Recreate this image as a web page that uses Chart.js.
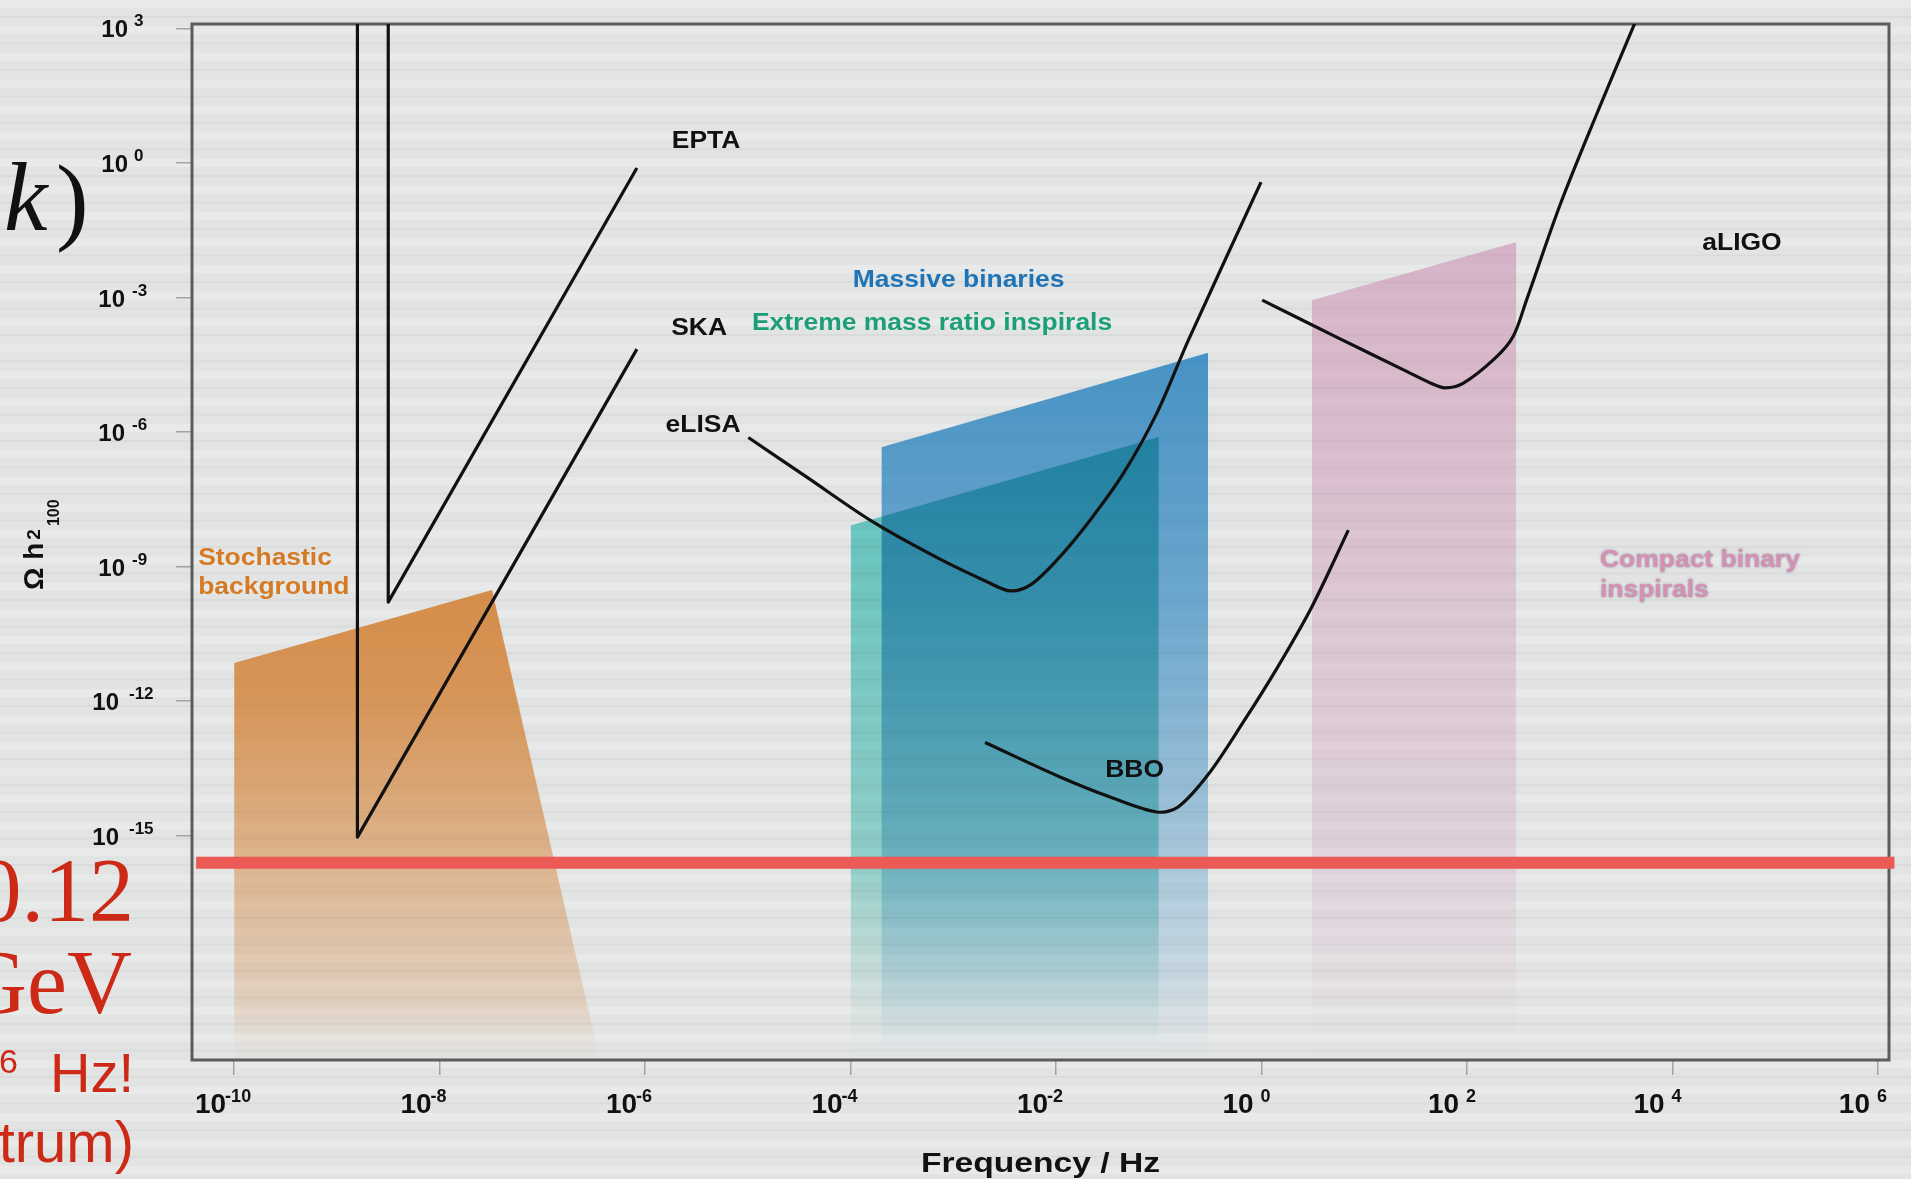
<!DOCTYPE html>
<html>
<head>
<meta charset="utf-8">
<script src="https://cdn.jsdelivr.net/npm/chart.js@4.4.1/dist/chart.umd.min.js"></script>
<style>
  html, body { margin: 0; padding: 0; background: #e3e5e5; }
  body { width: 1911px; height: 1179px; overflow: hidden; }
  canvas { display: block; }
</style>
</head>
<body>
<canvas id="c" width="1911" height="1179"></canvas>
<script>
// Axis ticks, as powers of ten
const xTickExps = [-10, -8, -6, -4, -2, 0, 2, 4, 6];
const yTickExps = [3, 0, -3, -6, -9, -12, -15];

// Detector sensitivity curves: log10 frequency [Hz] and log10 Ω h²₁₀₀
const eptaLogF = [-8.50, -8.50, -6.08];
const eptaLogOmega = [3.5, -9.79, -0.11];
const skaLogF = [-8.80, -8.80, -6.08];
const skaLogOmega = [3.5, -15.03, -4.15];
const elisaLogF = [-4.995, -4.426, -3.778, -3.129, -2.642, -2.448, -2.253, -1.993, -1.669, -1.345, -1.020, -0.712, -0.005];
const elisaLogOmega = [-6.119, -7.004, -8.008, -8.833, -9.368, -9.540, -9.413, -8.856, -7.963, -6.922, -5.583, -3.948, -0.424];
const bboLogF = [-2.691, -1.961, -1.474, -1.020, -0.812, -0.518, -0.177, 0.148, 0.489, 0.845];
const bboLogOmega = [-12.922, -13.689, -14.136, -14.470, -14.357, -13.629, -12.462, -11.272, -9.897, -8.186];
const aligoLogF = [0.006, 0.725, 1.387, 1.653, 1.785, 1.961, 2.271, 2.447, 2.579, 2.905, 3.246, 3.626, 3.733];
const aligoLogOmega = [-3.056, -3.875, -4.617, -4.914, -5.012, -4.914, -4.357, -3.874, -3.056, -0.937, 1.004, 3.078, 3.658];

// Source bands (upper edge; each band is filled down to the bottom of the axis)
const stochasticLogF = [-10.0, -7.49, -6.47];
const stochasticLogOmega = [-11.15, -9.52, -19.70];
const massiveLogF = [-3.70, -0.52];
const massiveLogOmega = [-6.34, -4.23];
const emriLogF = [-4.00, -1.00];
const emriLogOmega = [-8.08, -6.11];
const compactLogF = [0.49, 2.48];
const compactLogOmega = [-3.06, -1.76];

// Horizontal signal level
const signalLogF = [-10.37, 6.16];
const signalLogOmega = [-15.6, -15.6];

// Text placed on the plot (anchor in log10 data units)
const plotLabels = [
  { text: 'EPTA', logF: -5.406, logOmega: 0.335, color: '#111111', align: 'center' },
  { text: 'SKA', logF: -5.474, logOmega: -3.837, color: '#111111', align: 'center' },
  { text: 'eLISA', logF: -5.436, logOmega: -6.000, color: '#111111', align: 'center' },
  { text: 'Massive binaries', logF: -2.949, logOmega: -2.766, color: '#1f74b8', align: 'center' },
  { text: 'Extreme mass ratio inspirals', logF: -3.207, logOmega: -3.714, color: '#1c9e78', align: 'center' },
  { text: 'aLIGO', logF: 4.676, logOmega: -1.941, color: '#111111', align: 'center' },
  { text: 'BBO', logF: -1.236, logOmega: -13.696, color: '#111111', align: 'center' },
  { text: 'Stochastic', logF: -10.35, logOmega: -8.967, color: '#d57a22', align: 'left' },
  { text: 'background', logF: -10.35, logOmega: -9.614, color: '#d57a22', align: 'left' },
  { text: 'Compact binary', logF: 3.294, logOmega: -9.012, color: '#d690b6', align: 'left', halo: true },
  { text: 'inspirals', logF: 3.294, logOmega: -9.681, color: '#d690b6', align: 'left', halo: true }
];

const X_MIN_EXP = -10.41, X_MAX_EXP = 6.107;
const Y_MIN_EXP = -20.0, Y_MAX_EXP = 3.1;

const SANS = '"Liberation Sans", Arial, Helvetica, sans-serif';
const SERIF = '"Liberation Serif", "Times New Roman", serif';

const pts = (lf, lo) => lf.map((f, i) => ({ x: 10 ** f, y: 10 ** lo[i] }));

// Vertical fade for the bands: stops are [log10 Ω, alpha]
function fade(rgb, stops) {
  return (c) => {
    const chart = c.chart;
    const ys = chart.scales.y;
    if (!ys || !chart.chartArea) return `rgba(${rgb},${stops[0][1]})`;
    const top = ys.getPixelForValue(10 ** stops[0][0]);
    const bottom = ys.getPixelForValue(10 ** stops[stops.length - 1][0]);
    const g = chart.ctx.createLinearGradient(0, top, 0, bottom);
    stops.forEach(([v, a]) => {
      const t = (ys.getPixelForValue(10 ** v) - top) / (bottom - top);
      g.addColorStop(Math.min(1, Math.max(0, t)), `rgba(${rgb},${a})`);
    });
    return g;
  };
}
// Colour ramp (opaque) used with a multiply blend
function ramp(stops) {
  return (c) => {
    const chart = c.chart;
    const ys = chart.scales.y;
    if (!ys || !chart.chartArea) return `rgb(${stops[0][1]})`;
    const top = ys.getPixelForValue(10 ** stops[0][0]);
    const bottom = ys.getPixelForValue(10 ** stops[stops.length - 1][0]);
    const g = chart.ctx.createLinearGradient(0, top, 0, bottom);
    stops.forEach(([v, col]) => {
      const t = (ys.getPixelForValue(10 ** v) - top) / (bottom - top);
      g.addColorStop(Math.min(1, Math.max(0, t)), `rgb(${col})`);
    });
    return g;
  };
}

const band = (label, lf, lo, bg, order, extra) => Object.assign({
  label, data: pts(lf, lo), fill: 'start', backgroundColor: bg,
  borderWidth: 0, pointRadius: 0, order
}, extra || {});

const curve = (label, lf, lo, order, smooth) => ({
  label, data: pts(lf, lo), fill: false, borderColor: '#111111', borderWidth: 3.2,
  pointRadius: 0, order, tension: smooth ? 0.32 : 0,
  borderJoinStyle: 'round', borderCapStyle: 'butt'
});

const datasets = [
  band('Stochastic background', stochasticLogF, stochasticLogOmega,
    fade('210,124,44', [[-9.52, 0.84], [-11.98, 0.76], [-15.55, 0.48], [-18.67, 0.22], [-19.70, 0.03]]), 10),
  band('Compact binary inspirals', compactLogF, compactLogOmega,
    fade('200,130,170', [[-1.72, 0.52], [-9.75, 0.32], [-14.21, 0.24], [-17.56, 0.12], [-19.79, 0.0]]), 9),
  band('Massive binaries', massiveLogF, massiveLogOmega,
    fade('40,130,190', [[-4.17, 0.84], [-9.75, 0.64], [-14.21, 0.40], [-18.22, 0.15], [-19.79, 0.0]]), 8),
  band('Extreme mass ratio inspirals', emriLogF, emriLogOmega,
    ramp([[-5.96, '104,214,206'], [-15.55, '160,226,220'], [-18.22, '226,244,241'], [-19.79, '255,255,255']]), 7,
    { blend: 'multiply' }),
  curve('EPTA', eptaLogF, eptaLogOmega, 6, false),
  curve('SKA', skaLogF, skaLogOmega, 5, false),
  curve('eLISA', elisaLogF, elisaLogOmega, 4, true),
  curve('BBO', bboLogF, bboLogOmega, 3, true),
  curve('aLIGO', aligoLogF, aligoLogOmega, 2, true),
  {
    label: 'signal', data: pts(signalLogF, signalLogOmega), fill: false,
    borderColor: '#ec5a55', borderWidth: 12, pointRadius: 0, order: 1,
    clip: { left: 10, top: 0, right: 10, bottom: 0 }
  }
];

// Striped page background
const backdrop = {
  id: 'backdrop',
  beforeDraw(chart) {
    const { ctx, width, height } = chart;
    ctx.save();
    ctx.fillStyle = '#e2e4e4';
    ctx.fillRect(0, 0, width, height);
    for (let y = 0; y < height; y += 26.5) {
      ctx.fillStyle = 'rgba(255,255,255,0.22)';
      ctx.fillRect(0, y, width, 8);
      ctx.fillStyle = 'rgba(0,0,0,0.035)';
      ctx.fillRect(0, y + 16, width, 2);
    }
    ctx.restore();
  }
};

// Plot frame
const frame = {
  id: 'frame',
  beforeDatasetsDraw(chart) {
    const { ctx, chartArea: a } = chart;
    ctx.save();
    ctx.strokeStyle = '#5b5d5d';
    ctx.lineWidth = 3;
    ctx.strokeRect(a.left, a.top, a.right - a.left, a.bottom - a.top);
    ctx.restore();
  }
};

// Per-dataset blend mode for the next dataset to be drawn
const blend = {
  id: 'blend',
  afterDatasetDraw(chart, args) {
    const metas = chart.getSortedVisibleDatasetMetas();
    const pos = metas.indexOf(args.meta);
    const next = metas[pos - 1];
    const mode = next ? chart.data.datasets[next.index].blend : null;
    chart.ctx.globalCompositeOperation = mode || 'source-over';
  },
  afterDatasetsDraw(chart) {
    chart.ctx.globalCompositeOperation = 'source-over';
  }
};

function stretched(ctx, text, x, y, sx, align) {
  ctx.save();
  ctx.translate(x, y);
  ctx.scale(sx, 1);
  ctx.textAlign = align;
  ctx.fillText(text, 0, 0);
  ctx.restore();
}

// Tick labels, axis titles and plot annotations
const annotations = {
  id: 'annotations',
  afterDraw(chart) {
    const { ctx, chartArea: a, scales: { x, y } } = chart;
    ctx.save();
    ctx.textBaseline = 'alphabetic';
    ctx.fillStyle = '#111111';

    // frequency ticks: 10 with raised exponent
    xTickExps.forEach(e => {
      const px = x.getPixelForValue(10 ** e);
      ctx.font = `bold 28px ${SANS}`;
      ctx.textAlign = 'right';
      ctx.fillText('10', px - 8, a.bottom + 53);
      ctx.font = `bold 18px ${SANS}`;
      ctx.textAlign = 'left';
      ctx.fillText(String(e), e < 0 ? px - 9 : px - 1, a.bottom + 42);
    });

    // energy density ticks
    yTickExps.forEach(e => {
      const py = y.getPixelForValue(10 ** e);
      const s = String(e);
      const twoDigit = s.length > 2;
      const tenRight = a.left - (e >= 0 ? 64 : (twoDigit ? 73 : 67));
      const expLeft = a.left - (e >= 0 ? 58 : (twoDigit ? 63 : 60));
      ctx.font = `bold 24px ${SANS}`;
      ctx.textAlign = 'right';
      ctx.fillText('10', tenRight, py + 9);
      ctx.font = `bold 17px ${SANS}`;
      ctx.textAlign = 'left';
      ctx.fillText(s, expLeft, py - 2);
    });

    // x title
    ctx.font = `bold 28px ${SANS}`;
    stretched(ctx, 'Frequency / Hz', (a.left + a.right) / 2, 1172, 1.2, 'center');

    // y title: Ω h²₁₀₀, rotated
    ctx.save();
    ctx.translate(43, (a.top + a.bottom) / 2 + 48);
    ctx.rotate(-Math.PI / 2);
    ctx.textAlign = 'left';
    ctx.font = `bold 28px ${SANS}`;
    ctx.fillText('Ω h', 0, 0);
    const w = ctx.measureText('Ω h').width;
    ctx.font = `bold 19px ${SANS}`;
    ctx.fillText('2', w + 3, -3);
    const w2 = ctx.measureText('2').width;
    ctx.font = `bold 16px ${SANS}`;
    ctx.fillText('100', w + 3 + w2 + 3, 16);
    ctx.restore();

    // plot annotations
    plotLabels.forEach(l => {
      const px = x.getPixelForValue(10 ** l.logF);
      const py = y.getPixelForValue(10 ** l.logOmega);
      ctx.save();
      ctx.font = `bold 23px ${SANS}`;
      ctx.fillStyle = l.color;
      if (l.halo) {
        ctx.shadowColor = 'rgba(95,95,105,0.75)';
        ctx.shadowBlur = 2.5;
      }
      stretched(ctx, l.text, px, py, 1.15, l.align);
      ctx.restore();
    });

    // slide text along the left edge
    ctx.fillStyle = '#111111';
    ctx.textAlign = 'left';
    ctx.font = `italic 98px ${SERIF}`;
    ctx.fillText('k', 4, 230);
    ctx.font = `98px ${SERIF}`;
    ctx.fillText(')', 56, 232);

    ctx.fillStyle = '#cc2a17';
    ctx.textAlign = 'right';
    ctx.font = `90px ${SERIF}`;
    ctx.fillText('0.12', 134, 921);
    ctx.fillText('GeV', 132, 1013);
    ctx.font = `56px ${SANS}`;
    ctx.fillText('Hz!', 134, 1092);
    ctx.font = `34px ${SANS}`;
    ctx.fillText('6', 18, 1073);
    ctx.font = `58px ${SANS}`;
    ctx.fillText('trum)', 134, 1162);

    ctx.restore();
  }
};

const logAxis = (minExp, maxExp, tickExps, size, isX) => ({
  type: 'logarithmic',
  min: 10 ** minExp,
  max: 10 ** maxExp,
  bounds: 'data',
  afterBuildTicks: (axis) => { axis.ticks = tickExps.map(e => ({ value: 10 ** e })); },
  afterFit: (axis) => { if (isX) axis.height = size; else axis.width = size; },
  ticks: { display: false },
  grid: { drawOnChartArea: false, drawTicks: true, tickLength: isX ? 15 : 16, color: '#a2a4a4', lineWidth: 1.5 },
  border: { display: false }
});

new Chart(document.getElementById('c'), {
  type: 'line',
  data: { datasets },
  options: {
    responsive: false,
    devicePixelRatio: 1,
    animation: false,
    events: [],
    layout: { padding: { left: 0, top: 24, right: 22, bottom: 0 } },
    scales: {
      x: logAxis(X_MIN_EXP, X_MAX_EXP, xTickExps, 119, true),
      y: logAxis(Y_MIN_EXP, Y_MAX_EXP, yTickExps, 192, false)
    },
    plugins: {
      legend: { display: false },
      tooltip: { enabled: false }
    }
  },
  plugins: [backdrop, frame, blend, annotations]
});
</script>
</body>
</html>
